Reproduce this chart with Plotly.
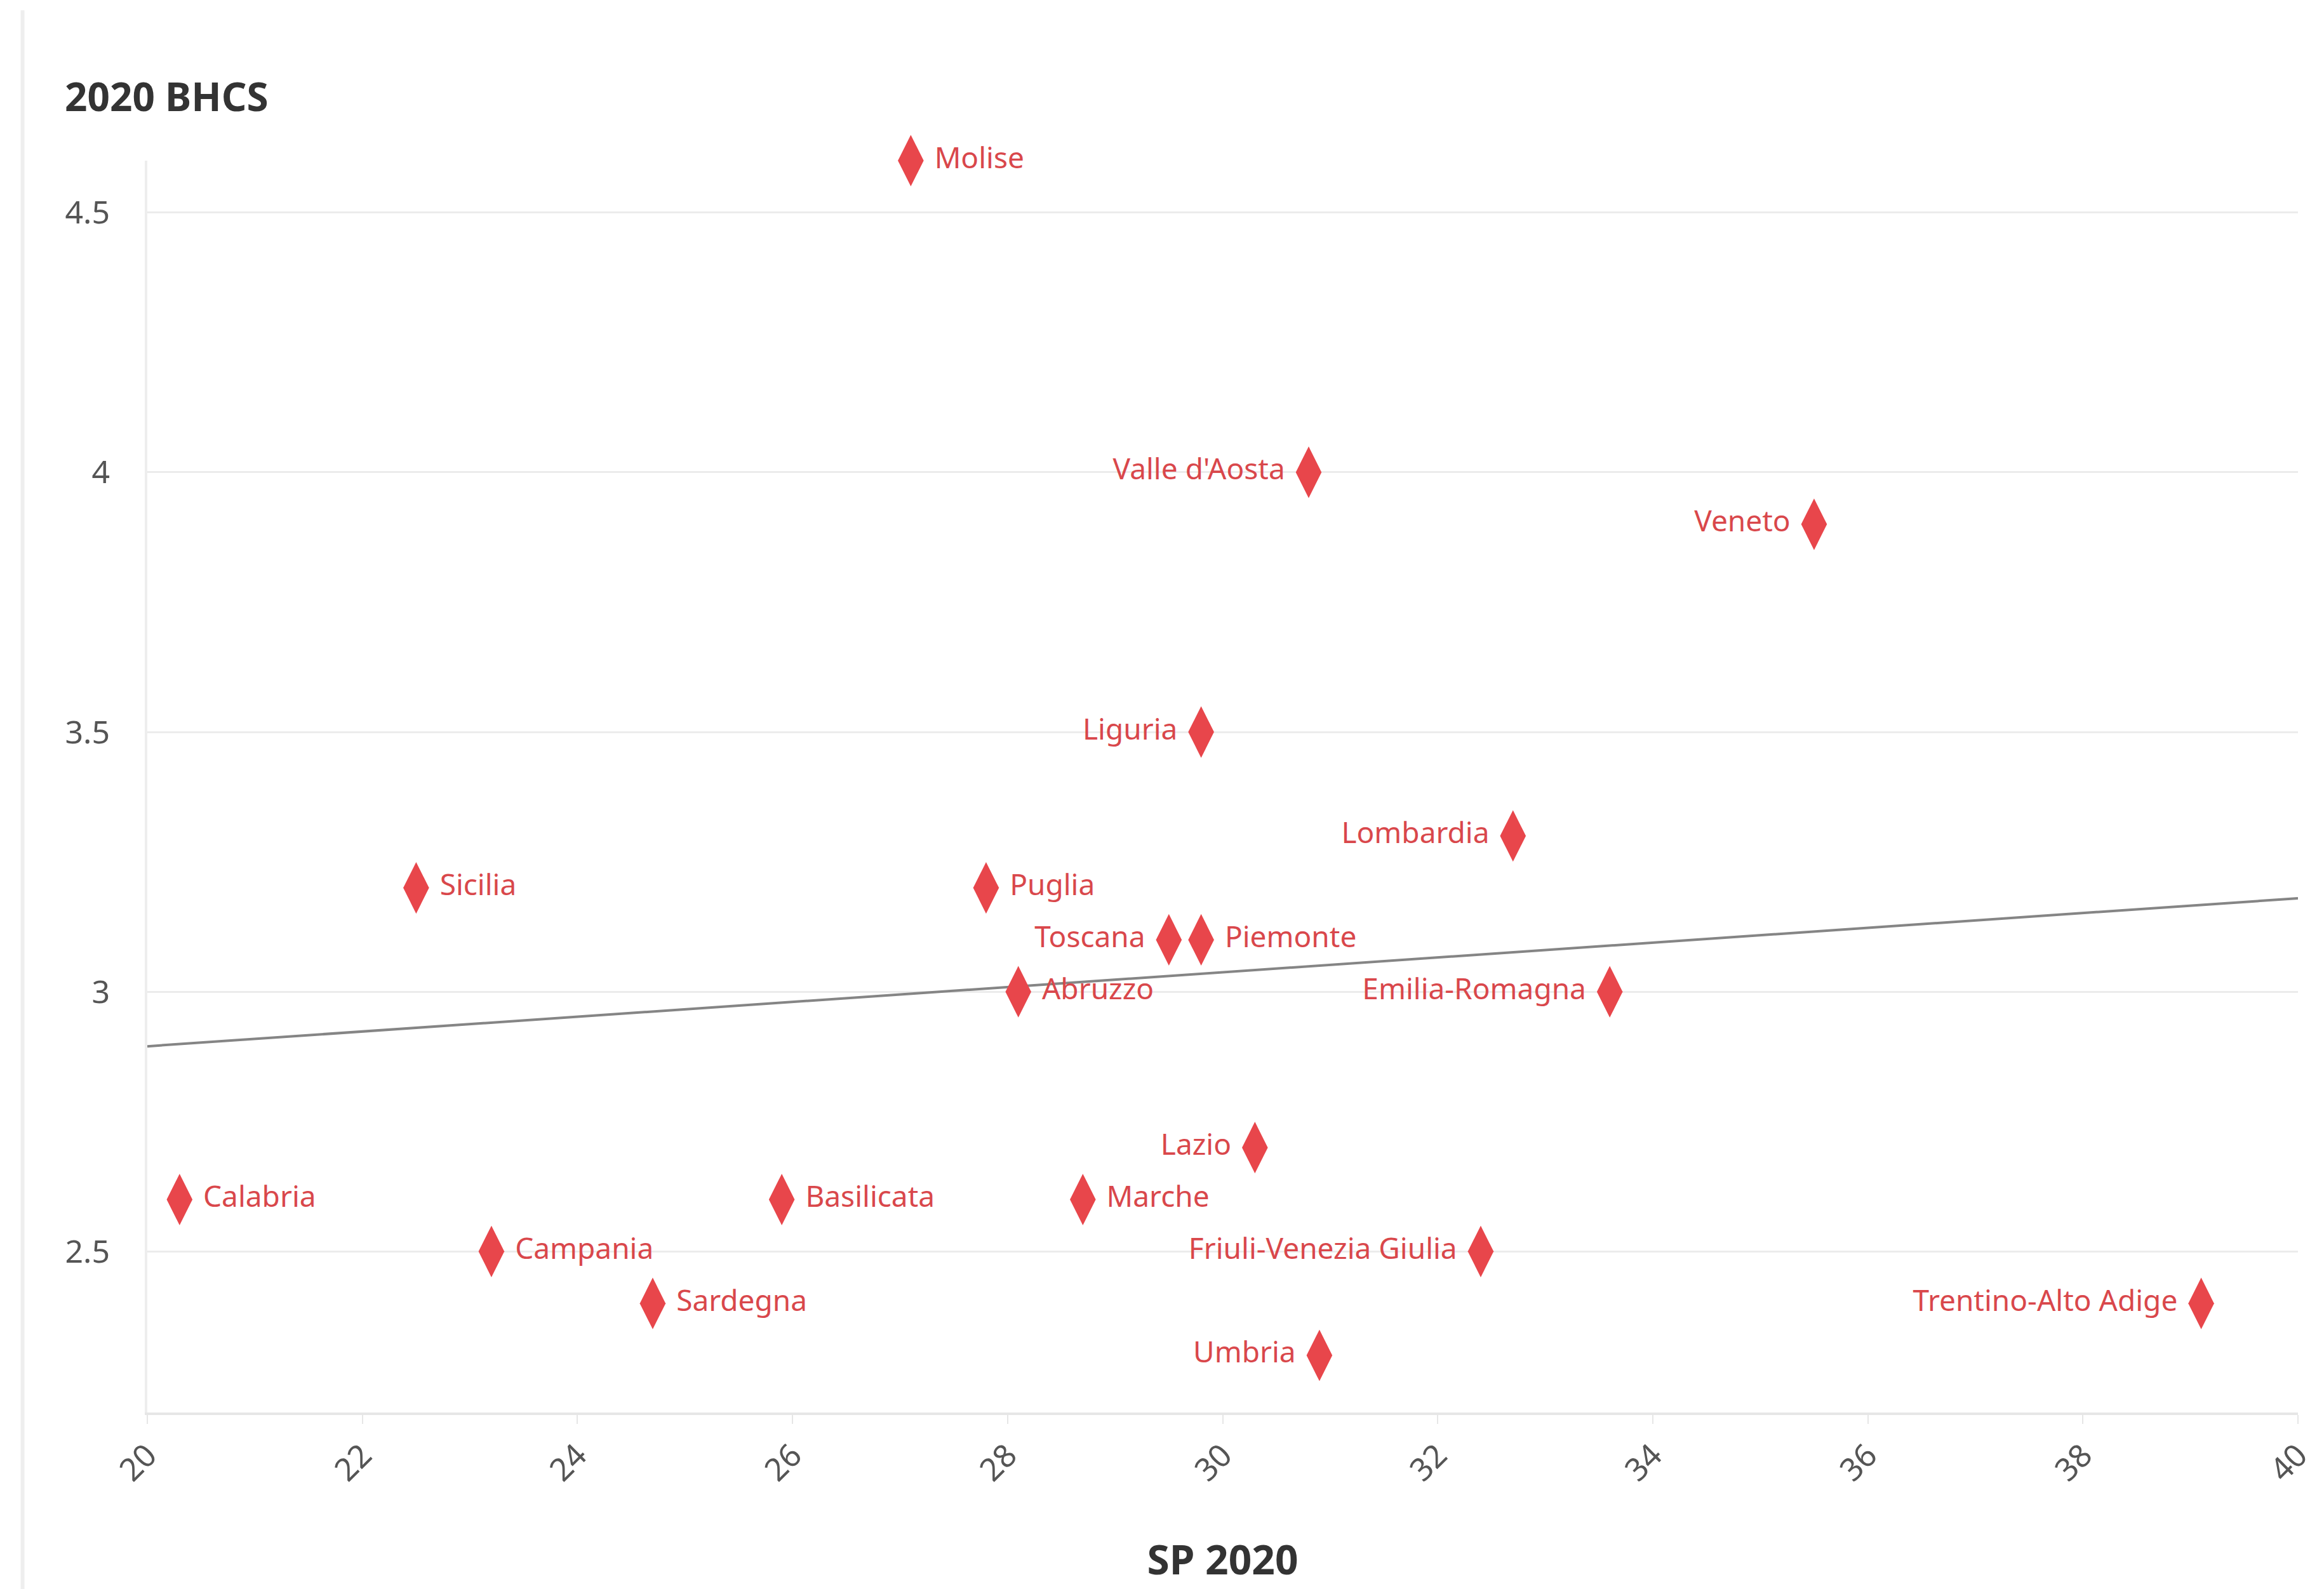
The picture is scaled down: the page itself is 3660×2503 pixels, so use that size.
import numpy as np
import plotly.graph_objects as go

regions = ["Molise", "Valle d'Aosta", "Veneto", "Liguria", "Lombardia", "Sicilia", "Puglia",
           "Toscana", "Piemonte", "Abruzzo", "Emilia-Romagna", "Lazio", "Calabria", "Basilicata",
           "Marche", "Friuli-Venezia Giulia", "Campania", "Sardegna", "Trentino-Alto Adige", "Umbria"]
sp_2020 = [27.1, 30.8, 35.5, 29.8, 32.7, 22.5, 27.8, 29.5, 29.8, 28.1, 33.6, 30.3, 20.3, 25.9,
           28.7, 32.4, 23.2, 24.7, 39.1, 30.9]
bhcs_2020 = [4.6, 4.0, 3.9, 3.5, 3.3, 3.2, 3.2, 3.1, 3.1, 3.0, 3.0, 2.7, 2.6, 2.6,
             2.6, 2.5, 2.5, 2.4, 2.4, 2.3]
label_side = ["right", "left", "left", "left", "left", "right", "right", "left", "right", "right",
              "left", "left", "right", "right", "right", "left", "right", "right", "left", "left"]

trend_x = [20, 40]
trend_y = [2.895, 3.18]

x_ticks = [20, 22, 24, 26, 28, 30, 32, 34, 36, 38, 40]
y_ticks = [2.5, 3, 3.5, 4, 4.5]
y_tick_text = ["2.5", "3", "3.5", "4", "4.5"]

positions = ["middle right" if s == "right" else "middle left" for s in label_side]

fig = go.Figure()
fig.add_trace(go.Scatter(x=trend_x, y=trend_y, mode="lines",
                         line=dict(color="#858585", width=4), hoverinfo="skip",
                         showlegend=False))
fig.add_trace(go.Scatter(
    x=sp_2020, y=bhcs_2020, mode="markers+text", text=regions,
    textposition=positions,
    textfont=dict(family="Noto Sans", size=46, color="#d9474b"),
    marker=dict(symbol="diamond-tall", size=58, color="#e8464b", line=dict(width=0)),
    cliponaxis=False, showlegend=False))

fig.add_annotation(text="<b>2020 BHCS</b>", xref="paper", yref="paper",
                   x=-0.039, y=1.0, yshift=102, xanchor="left", yanchor="middle",
                   showarrow=False, font=dict(family="Noto Sans", size=62, color="#333333"))

fig.add_shape(type="line", xref="paper", yref="paper", x0=-0.058, x1=-0.058, y0=-0.15, y1=1.12,
              line=dict(color="#eeeeee", width=6))

fig.update_layout(
    width=3660, height=2503,
    margin=dict(l=224, r=49, t=245, b=286),
    paper_bgcolor="white", plot_bgcolor="white",
    font=dict(family="Noto Sans", color="#555555"),
    xaxis=dict(range=[20, 40], tickvals=x_ticks, tickangle=-45, showgrid=False,
               zeroline=False, showline=True, linecolor="#e6e6e6", linewidth=4,
               ticks="outside", ticklen=14, tickcolor="#e6e6e6", tickwidth=2,
               tickfont=dict(size=50, color="#555555"),
               title=dict(text="<b>SP 2020</b>", font=dict(size=64, color="#333333"), standoff=90)),
    yaxis=dict(range=[2.19, 4.6], tickvals=y_ticks, ticktext=y_tick_text,
               showgrid=True, gridcolor="#ececec", gridwidth=3, zeroline=False,
               showline=True, linecolor="#eeeeee", linewidth=4,
               ticks="", ticklabelstandoff=45,
               tickfont=dict(size=50, color="#555555")),
)

fig.write_html("out.html")
